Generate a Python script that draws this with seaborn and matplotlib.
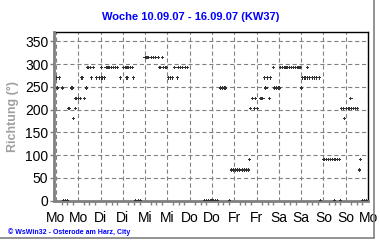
import matplotlib
matplotlib.use("Agg")
import matplotlib.pyplot as plt
import seaborn as sns
import pandas as pd
from matplotlib.lines import Line2D
from matplotlib.ticker import MultipleLocator

# time in hours since Monday 10.09.07 00:00, wind direction in degrees
hours = [
    0.0, 0.8, 2.0, 3.5, 4.0, 5.1, 6.3, 7.0, 8.6, 9.3, 10.6, 10.8, 12.0, 13.3,
    14.0, 15.2, 16.4, 17.2, 18.5, 19.0, 20.3, 22.0, 23.4, 24.4, 24.8, 26.0,
    27.0, 28.0, 29.0, 30.0, 31.0, 32.0, 33.0, 34.6, 36.5, 37.7, 38.2, 38.8,
    40.0, 41.3, 41.8, 43.0, 44.2, 45.4,
    48.0, 49.0, 50.0, 51.3, 52.5, 53.8, 55.0, 56.0, 57.5, 57.8, 59.2, 60.5,
    61.7, 62.8, 64.0, 65.3, 66.0, 67.2, 68.3, 69.5, 70.7,
    80.0, 81.0, 82.0, 83.0, 84.0, 85.0, 86.0, 87.0, 88.7, 89.8, 91.0, 93.3,
    94.6, 95.7, 96.8, 97.9, 99.0, 100.2, 101.3, 102.4, 103.5, 104.1, 104.8,
    105.9, 107.0, 107.2, 108.3, 110.4, 111.4, 112.2, 113.0, 114.0, 114.9,
    115.6, 117.0, 117.6, 118.9, 120.1,
    121.0, 122.1, 123.3, 124.4, 125.6, 126.8, 128.0, 129.1, 130.3, 131.4,
    132.3, 132.8, 134.1, 135.3, 135.4, 136.7, 137.9, 139.2, 140.5, 141.8,
    142.5,
    144.3, 145.5, 146.7, 147.9, 149.0, 149.9, 150.2, 151.4, 152.6, 153.3,
    153.8, 155.0, 155.3, 156.5, 157.8, 158.8, 159.2, 160.2, 161.4, 162.5,
    163.3, 164.0, 165.2, 166.3, 167.3,
]
direction = [
    270, 247.5, 270, 247.5, 0, 0, 0, 202.5, 247.5, 180, 202.5, 225, 225, 225,
    270, 225, 247.5, 292.5, 292.5, 270, 292.5, 270, 270, 292.5, 270, 270,
    292.5, 292.5, 292.5, 292.5, 292.5, 292.5, 292.5, 270, 292.5, 292.5, 270, 292.5,
    292.5, 292.5, 270, 0, 0, 0,
    315, 315, 315, 315, 315, 315, 315, 292.5, 315, 292.5, 292.5, 270,
    270, 270, 292.5, 270, 292.5, 292.5, 292.5, 292.5, 292.5,
    0, 0, 0, 0, 0, 0, 0, 0, 247.5, 247.5, 247.5, 0,
    67.5, 67.5, 67.5, 67.5, 67.5, 67.5, 67.5, 67.5, 67.5, 90, 202.5,
    225, 202.5, 225, 202.5, 225, 225, 270, 247.5, 270, 225,
    270, 292.5, 247.5, 247.5, 247.5,
    292.5, 292.5, 292.5, 292.5, 292.5, 292.5, 292.5, 292.5, 292.5, 292.5,
    247.5, 270, 270, 292.5, 270, 270, 270, 270, 270, 270,
    0,
    90, 90, 90, 90, 90, 0, 90, 90, 90, 0,
    202.5, 202.5, 180, 202.5, 202.5, 225, 202.5, 202.5, 202.5, 202.5,
    67.5, 90, 0, 0, 0,
]
tick_hours = [0, 12, 24, 36, 48, 60, 72, 84, 96, 108, 120, 132, 144, 156, 168]
tick_labels = ["Mo", "Mo", "Di", "Di", "Mi", "Mi", "Do", "Do", "Fr", "Fr",
               "Sa", "Sa", "So", "So", "Mo"]
y_ticks = [0, 50, 100, 150, 200, 250, 300, 350]
title = "Woche 10.09.07 - 16.09.07 (KW37)"
ylabel = "Richtung (°)"
footer = "© WsWin32 - Osterode am Harz, City"

sns.set_style("white")
plt.rcParams["font.family"] = ["Liberation Sans", "DejaVu Sans"]
plt.rcParams["lines.scale_dashes"] = False

df = pd.DataFrame({"h": hours, "dir": direction})

fig = plt.figure(figsize=(3.8, 2.45), dpi=100)
fig.patch.set_facecolor("white")
ax = fig.add_axes([56 / 380, 1 - 200.7 / 245, 312 / 380, (200.7 - 32.3) / 245])

sns.scatterplot(data=df, x="h", y="dir", ax=ax, marker="P", s=6,
                color="#333333", edgecolor="none", linewidth=0, zorder=3)

ax.set_xlim(0, 168)
ax.set_ylim(0, 370)
ax.set_xticks(tick_hours)
ax.set_xticklabels(tick_labels, fontsize=8.5)
ax.xaxis.set_minor_locator(MultipleLocator(3))
ax.set_yticks(y_ticks)
ax.set_yticklabels([str(v) for v in y_ticks], fontsize=8.5)
ax.set_xlabel("")
ax.set_ylabel(ylabel, fontsize=9, fontweight="bold", color="#a0a0a0", labelpad=4)

ax.grid(True, which="major", color="#808080", linestyle=(0, (3, 2)), linewidth=0.8)
ax.tick_params(axis="x", which="major", direction="out", length=4, width=1,
               color="#808080", pad=3, labelcolor="black")
ax.tick_params(axis="x", which="minor", direction="out", length=3, width=1,
               color="#808080", bottom=True)
ax.tick_params(axis="y", which="major", direction="out", length=3, width=1,
               color="#808080", pad=1, labelcolor="black", left=True)

for s in ["left", "bottom"]:
    ax.spines[s].set_color("#808080")
    ax.spines[s].set_linewidth(2)
ax.spines["left"].set_position(("outward", 1.5))
ax.spines["bottom"].set_position(("outward", 0.5))
for s in ["top", "right"]:
    ax.spines[s].set_color("black")
    ax.spines[s].set_linewidth(1)

fig.text(191 / 380, 1 - 17.5 / 245, title, ha="center", va="center",
         fontsize=8, fontweight="bold", color="#0000ff")
fig.text(8 / 380, 1 - 232 / 245, footer, ha="left", va="center",
         fontsize=5, fontweight="bold", color="#0000ff")

fig.add_artist(Line2D([373.5 / 380, 373.5 / 380], [1 - 238 / 245, 1], color="#808080",
                      linewidth=1.2, transform=fig.transFigure))
fig.add_artist(Line2D([0, 373.5 / 380], [1 - 238 / 245, 1 - 238 / 245], color="#808080",
                      linewidth=1.2, transform=fig.transFigure))

fig.savefig("out.png", dpi=100, facecolor="white")
